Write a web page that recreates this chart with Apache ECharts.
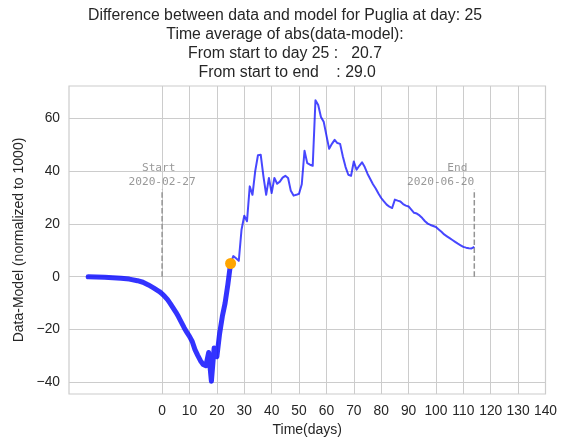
<!DOCTYPE html>
<html>
<head>
<meta charset="utf-8">
<script src="https://cdn.jsdelivr.net/npm/echarts@6/dist/echarts.min.js"></script>
<style>
  html, body { margin: 0; padding: 0; background: #ffffff; }
  #chart { width: 562px; height: 442px; }
</style>
</head>
<body>
<div id="chart"></div>
<script>
// Difference between observed data and model, per day since the start date
const currentDay = 25;
const startDay = 0;
const endDay = 114;
const markerTop = 33;
const startLabel = 'Start \n2020-02-27';
const endLabel = 'End \n2020-06-20';

const days = [
  -27, -24, -21, -18, -15, -12, -9, -7, -5, -3, -1,
  0, 1, 2, 3, 4, 5, 6, 7, 8, 9, 10, 11, 12, 13, 14, 15, 16, 17, 18, 19,
  20, 21, 22, 23, 24, 25, 26, 27, 28, 29, 30, 31, 32, 33, 34, 35, 36, 37, 38, 39,
  40, 41, 42, 43, 44, 45, 46, 47, 48, 49, 50, 51, 52, 53, 54, 55, 56, 57, 58, 59,
  60, 61, 62, 63, 64, 65, 66, 67, 68, 69, 70, 71, 72, 73, 74, 75, 76, 77, 78, 79,
  80, 81, 82, 83, 84, 85, 86, 87, 88, 89, 90, 91, 92, 93, 94, 95, 96, 97, 98, 99,
  100, 101, 102, 103, 104, 105, 106, 107, 108, 109, 110, 111, 112, 113, 114
];
const diff = [
  0, -0.1, -0.2, -0.4, -0.6, -0.9, -1.5, -2.1, -3.1, -4.3, -5.6,
  -6.5, -7.5, -8.7, -10.2, -11.8, -13.4, -15.2, -17.2, -19.2, -21, -22.6, -24.5, -27.6, -29.8, -31.8, -33.2, -33.7, -28.7, -39.6, -27,
  -30.3, -21.5, -15, -10, -3, 5, 7.8, 7, 6, 17.8, 23.1, 21, 34.2, 31, 40, 46, 46.2, 38, 31, 37.4,
  31.7, 37.4, 35.2, 36, 37.5, 38.2, 37.4, 32.5, 30.7, 31, 31.4, 35, 47.7, 43, 42.4, 42, 66.8, 65, 60.5, 58.7,
  53.5, 48.4, 50.3, 51.8, 50.6, 50.3, 45.5, 41.5, 38.6, 38.2, 43.6, 40.5, 42, 43.3, 41.5, 39, 37, 35, 33.4, 31.5,
  29.8, 28.5, 27.3, 26.5, 26, 29.2, 28.8, 28.5, 27.5, 26.9, 26.6, 25.4, 24.2, 23.9, 23.2, 22.2, 21, 20.1, 19.6, 19.2,
  18.8, 17.9, 17, 16, 15.3, 14.6, 13.9, 13.2, 12.5, 11.9, 11.3, 11, 10.8, 10.7, 11.3
];

const xTicks = [0, 10, 20, 30, 40, 50, 60, 70, 80, 90, 100, 110, 120, 130, 140];
const yTicks = [-40, -20, 0, 20, 40, 60];

const titleLines = [
  'Difference between data and model for Puglia at day: 25',
  'Time average of abs(data-model):',
  'From start to day 25 :   20.7',
  ' From start to end    : 29.0'
];

// Split the curve into the part up to the current day and the part after it
const points = days.map((d, i) => [d, diff[i]]);
const pastPts = points.filter(p => p[0] <= currentDay);
const futurePts = points.filter(p => p[0] >= currentDay);
const currentPt = points.find(p => p[0] === currentDay);

const chart = echarts.init(document.getElementById('chart'), null, { renderer: 'canvas' });

const gridColor = '#cccccc';
const textColor = '#262626';
const tickFont = 'Liberation Sans, Arial, sans-serif';
const monoFont = 'DejaVu Sans Mono, monospace';

chart.setOption({
  animation: false,
  backgroundColor: '#ffffff',
  graphic: titleLines.map((t, i) => ({
    type: 'text',
    x: 285,
    y: 16 + i * 19,
    style: {
      text: t,
      fill: textColor,
      font: '15.8px ' + tickFont,
      textAlign: 'center',
      textVerticalAlign: 'middle'
    }
  })),
  grid: {
    left: 69, right: 16.5, top: 86, bottom: 47,
    show: true, borderColor: gridColor, borderWidth: 1.2, backgroundColor: 'transparent'
  },
  xAxis: {
    type: 'value',
    min: -34, max: 140,
    name: 'Time(days)',
    nameLocation: 'middle',
    nameGap: 29,
    nameTextStyle: { fontFamily: tickFont, fontSize: 14, color: textColor },
    axisLine: { show: false },
    axisTick: { show: false, customValues: xTicks },
    axisLabel: { customValues: xTicks, margin: 10, fontFamily: tickFont, fontSize: 13.8, color: textColor },
    splitLine: { show: true, lineStyle: { color: gridColor, width: 1 } }
  },
  yAxis: {
    type: 'value',
    min: -44.4, max: 72.2,
    name: 'Data-Model (normalized to 1000)',
    nameLocation: 'middle',
    nameGap: 40,
    nameTextStyle: { fontFamily: tickFont, fontSize: 14, color: textColor },
    axisLine: { show: false },
    axisTick: { show: false, customValues: yTicks },
    axisLabel: {
      customValues: yTicks, margin: 9, fontFamily: tickFont, fontSize: 13.8, color: textColor,
      formatter: v => (v < 0 ? '\u2212' + Math.abs(v) : String(v))
    },
    splitLine: { show: true, lineStyle: { color: gridColor, width: 1 } }
  },
  series: [
    {
      type: 'line', data: [[startDay, 0], [startDay, markerTop]], symbol: 'none', silent: true, z: 1,
      lineStyle: { color: '#949494', width: 1.5, type: [5.5, 2.4] }
    },
    {
      type: 'line', data: [[endDay, 0], [endDay, markerTop]], symbol: 'none', silent: true, z: 1,
      lineStyle: { color: '#949494', width: 1.5, type: [5.5, 2.4] }
    },
    {
      type: 'line', data: pastPts, symbol: 'none', z: 3,
      lineStyle: { color: 'rgba(0,0,255,0.8)', width: 5, join: 'round', cap: 'round' }
    },
    {
      type: 'line', data: futurePts, symbol: 'none', z: 3,
      lineStyle: { color: 'rgba(0,0,255,0.72)', width: 2, join: 'round' }
    },
    {
      type: 'scatter', data: [currentPt], symbol: 'circle', symbolSize: 11, z: 5,
      itemStyle: { color: '#ffa500', opacity: 1 }
    },
    {
      type: 'scatter', symbolSize: 0, silent: true, z: 4,
      data: [
        { value: [startDay, markerTop], label: { align: 'center', formatter: startLabel } },
        { value: [endDay, markerTop], label: { align: 'right', formatter: endLabel } }
      ],
      label: {
        show: true, position: 'inside', verticalAlign: 'bottom',
        fontFamily: monoFont, fontSize: 11.2, lineHeight: 14, color: '#808080'
      }
    }
  ]
});
</script>
</body>
</html>
